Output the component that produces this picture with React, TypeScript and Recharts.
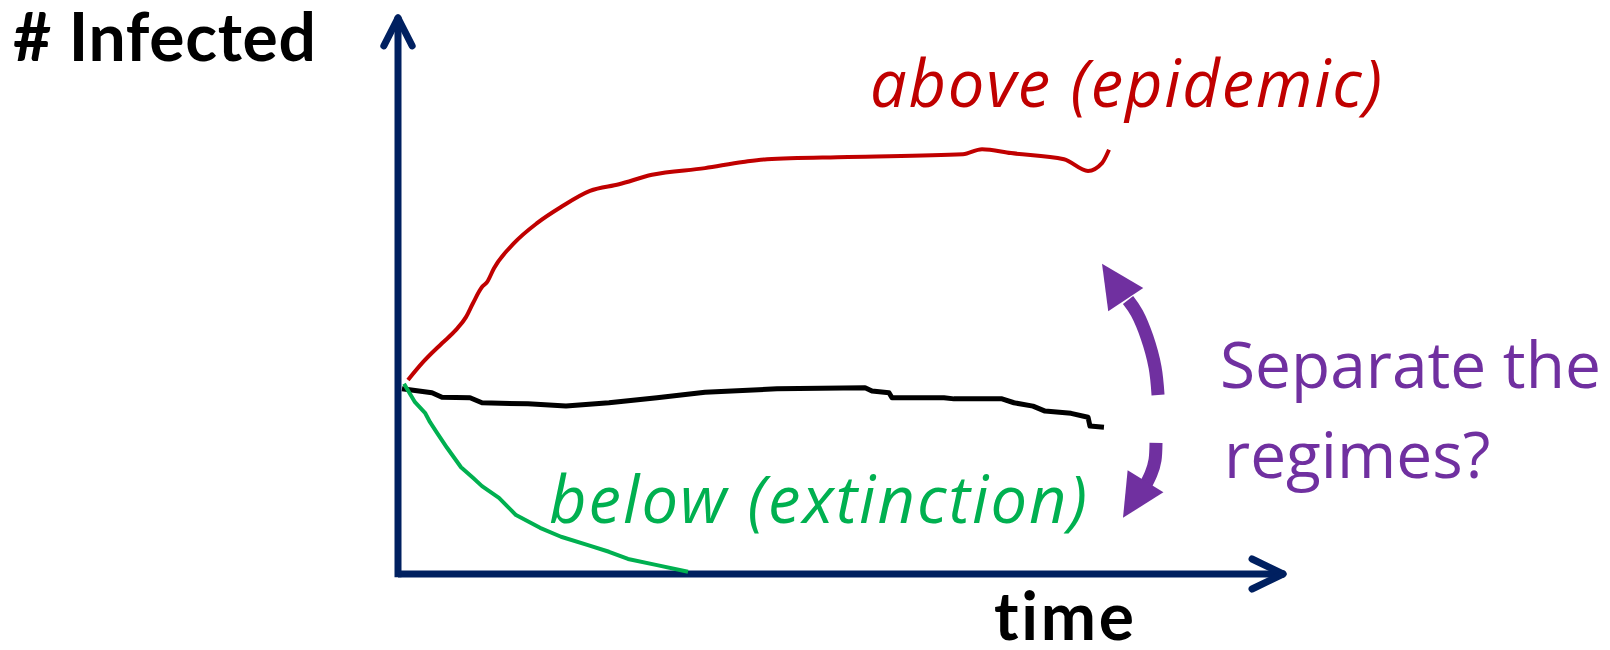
import {
  ComposedChart,
  Line,
  ReferenceLine,
  Scatter,
  XAxis,
  YAxis,
} from "recharts";

// time / # infected (0..100 on both axes)
const epidemic = [
  { t: 1.13, v: 34.9 }, { t: 2.82, v: 38.1 }, { t: 4.97, v: 41.5 },
  { t: 6.55, v: 43.9 }, { t: 7.68, v: 46.2 }, { t: 8.47, v: 48.7 },
  { t: 9.49, v: 51.6 }, { t: 10.06, v: 52.5 }, { t: 10.85, v: 55.0 },
  { t: 13.11, v: 59.5 }, { t: 15.71, v: 63.1 }, { t: 18.42, v: 66.0 },
  { t: 21.69, v: 68.9 }, { t: 24.97, v: 70.1 }, { t: 28.7, v: 71.8 },
  { t: 34.69, v: 73.0 }, { t: 38.98, v: 74.1 }, { t: 41.69, v: 74.6 },
  { t: 50.85, v: 75.0 }, { t: 63.84, v: 75.5 }, { t: 65.99, v: 76.4 },
  { t: 69.27, v: 75.7 }, { t: 75.25, v: 74.6 }, { t: 77.97, v: 72.5 },
  { t: 79.55, v: 73.9 }, { t: 80.34, v: 76.3 },
];

const threshold = [
  { t: 0.45, v: 33.3 }, { t: 3.84, v: 32.6 }, { t: 4.97, v: 31.8 },
  { t: 8.14, v: 31.7 }, { t: 9.49, v: 30.8 }, { t: 14.69, v: 30.6 },
  { t: 18.98, v: 30.2 }, { t: 23.84, v: 30.8 }, { t: 29.27, v: 31.7 },
  { t: 34.69, v: 32.7 }, { t: 42.82, v: 33.3 }, { t: 52.77, v: 33.5 },
  { t: 53.56, v: 32.9 }, { t: 55.48, v: 32.6 }, { t: 55.82, v: 31.7 },
  { t: 61.69, v: 31.7 }, { t: 62.82, v: 31.5 }, { t: 68.25, v: 31.5 },
  { t: 69.6, v: 30.8 }, { t: 71.75, v: 30.2 }, { t: 73.11, v: 29.3 },
  { t: 76.05, v: 28.9 }, { t: 77.97, v: 28.2 }, { t: 78.19, v: 26.6 },
  { t: 79.77, v: 26.4 },
];

const extinction = [
  { t: 0.68, v: 34.2 }, { t: 1.92, v: 30.9 }, { t: 3.05, v: 29.0 },
  { t: 3.62, v: 27.3 }, { t: 4.41, v: 25.4 }, { t: 5.54, v: 22.7 },
  { t: 7.12, v: 19.2 }, { t: 8.47, v: 17.3 }, { t: 9.49, v: 15.8 },
  { t: 11.41, v: 13.7 }, { t: 13.33, v: 10.6 }, { t: 16.05, v: 8.3 },
  { t: 18.42, v: 6.7 }, { t: 21.47, v: 5.2 }, { t: 23.84, v: 4.0 },
  { t: 25.99, v: 2.7 }, { t: 29.27, v: 1.6 }, { t: 32.77, v: 0.4 },
];

// purple "separate the regimes" arrows
const upShaft = [
  { t: 85.88, v: 32.2 }, { t: 85.54, v: 37.2 }, { t: 84.63, v: 42.6 },
  { t: 83.5, v: 46.9 }, { t: 82.49, v: 49.3 },
];
const downShaft = [
  { t: 85.65, v: 23.6 }, { t: 85.54, v: 20.5 }, { t: 85.08, v: 18.0 },
  { t: 84.41, v: 15.8 },
];
const heads = [
  { t: 79.55, v: 55.8, angle: -123.5 },
  { t: 81.92, v: 10.1, angle: 121.6 },
];

const NAVY = "#002060";
const PURPLE = "#7030A0";

const ArrowHead = (props: any) => {
  const { cx, cy, payload } = props;
  const a = (payload.angle * Math.PI) / 180;
  const dx = Math.cos(a);
  const dy = Math.sin(a);
  const bx = cx - dx * 43;
  const by = cy - dy * 43;
  const pts = [
    [cx, cy],
    [bx - dy * 21, by + dx * 21],
    [bx + dy * 21, by - dx * 21],
  ];
  return <polygon points={pts.map((p) => p.join(",")).join(" ")} fill={PURPLE} />;
};

const axisLine = { stroke: NAVY, strokeWidth: 7, ifOverflow: "visible" as const };
const chevron = { ...axisLine, strokeLinecap: "round" as const };
const noLig = { fontVariantLigatures: "none" as const };

export default function App() {
  return (
    <div style={{ position: "absolute", left: 0, top: 0, width: 1610, height: 650, background: "#fff" }}>
      <ComposedChart
        width={1610}
        height={650}
        margin={{ top: 18, right: 327, bottom: 76, left: 398 }}
      >
        <XAxis type="number" dataKey="t" domain={[0, 100]} allowDataOverflow hide />
        <YAxis type="number" domain={[0, 100]} allowDataOverflow hide />
        {/* axes with open arrowheads */}
        <ReferenceLine segment={[{ x: 0, y: -0.6 }, { x: 0, y: 100 }]} {...axisLine} />
        <ReferenceLine segment={[{ x: 0, y: 0 }, { x: 100, y: 0 }]} {...axisLine} />
        <ReferenceLine segment={[{ x: -1.6, y: 95 }, { x: 0, y: 100 }]} {...chevron} />
        <ReferenceLine segment={[{ x: 1.6, y: 95 }, { x: 0, y: 100 }]} {...chevron} />
        <ReferenceLine segment={[{ x: 96.5, y: 2.7 }, { x: 100, y: 0 }]} {...chevron} />
        <ReferenceLine segment={[{ x: 96.5, y: -2.7 }, { x: 100, y: 0 }]} {...chevron} />
        <Line data={epidemic} dataKey="v" type="monotone" stroke="#C00000" strokeWidth={4} dot={false} activeDot={false} isAnimationActive={false} />
        <Line data={threshold} dataKey="v" type="linear" stroke="#000" strokeWidth={5} strokeLinejoin="round" dot={false} activeDot={false} isAnimationActive={false} />
        <Line data={extinction} dataKey="v" type="linear" stroke="#00B050" strokeWidth={4} strokeLinejoin="round" dot={false} activeDot={false} isAnimationActive={false} />
        <Line data={upShaft} dataKey="v" type="natural" stroke={PURPLE} strokeWidth={13} dot={false} activeDot={false} isAnimationActive={false} />
        <Line data={downShaft} dataKey="v" type="natural" stroke={PURPLE} strokeWidth={13} dot={false} activeDot={false} isAnimationActive={false} />
        <Scatter data={heads} dataKey="v" shape={ArrowHead} isAnimationActive={false} />
      </ComposedChart>
      <svg width={1610} height={650} style={{ position: "absolute", left: 0, top: 0, pointerEvents: "none" }}>
        <text x={13} y={61} fontFamily="Lato" fontWeight={700} fontSize={66} fill="#000" style={noLig} textLength={303}>
          # Infected
        </text>
        <text x={994} y={640} fontFamily="Lato" fontWeight={700} fontSize={66} fill="#000" style={noLig} textLength={140}>
          time
        </text>
        <text x={870} y={107} fontFamily="Open Sans" fontStyle="italic" fontSize={65} fill="#C00000" textLength={512}>
          above (epidemic)
        </text>
        <text x={549} y={523} fontFamily="Open Sans" fontStyle="italic" fontSize={65} fill="#00B050" textLength={538}>
          below (extinction)
        </text>
        <text x={1220} y={388} fontFamily="Open Sans" fontSize={64} fill={PURPLE}>
          Separate the
        </text>
        <text x={1224} y={478} fontFamily="Open Sans" fontSize={64} fill={PURPLE}>
          regimes?
        </text>
      </svg>
    </div>
  );
}
